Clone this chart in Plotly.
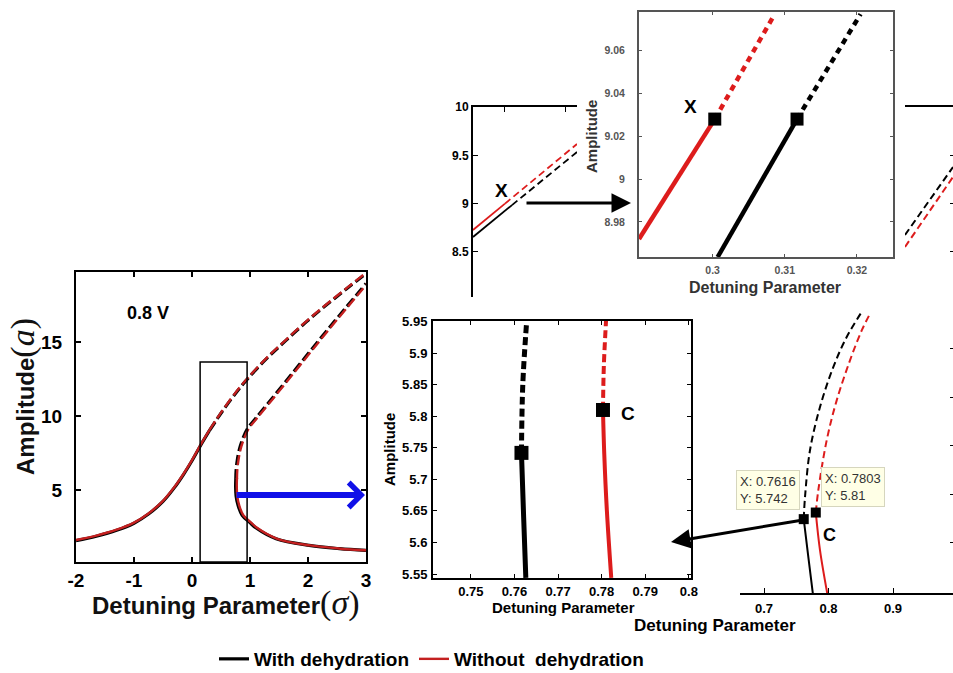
import plotly.graph_objects as go

W, H = 953, 673

# ---------------- data ----------------
# Main plot (0.8 V): upper branch (stable part, then unstable dashed part)
main_up_solid_sigma = [-2.0, -1.65, -1.3, -1.0, -0.75, -0.5, -0.3, -0.15, 0.0, 0.15, 0.30]
main_up_solid_black = [1.58, 1.88, 2.28, 2.76, 3.38, 4.23, 5.18, 6.03, 6.98, 8.03, 9.01]
main_up_solid_red = [1.62, 1.92, 2.32, 2.80, 3.42, 4.27, 5.22, 6.07, 7.02, 8.07, 9.05]
main_up_dash_sigma = [0.30, 0.53, 0.80, 0.95, 1.28, 1.62, 1.97, 2.31, 2.66, 3.0]
main_up_dash_black = [9.01, 10.36, 11.78, 12.48, 13.86, 15.11, 16.36, 17.48, 18.58, 19.63]
main_up_dash_red = [9.05, 10.40, 11.82, 12.52, 13.90, 15.15, 16.40, 17.52, 18.62, 19.67]
# middle (unstable) branch
main_mid_amp = [5.75, 6.3, 7.0, 7.8, 8.5, 9.1, 9.85, 10.95, 12.35, 14.05, 15.7, 17.35, 18.95]
main_mid_sigma_black = [0.755, 0.760, 0.780, 0.820, 0.880, 0.950, 1.100, 1.330, 1.620, 1.970, 2.310, 2.660, 3.0]
main_mid_sigma_red = [0.775, 0.780, 0.800, 0.840, 0.900, 0.970, 1.120, 1.350, 1.640, 1.990, 2.330, 2.680, 3.02]
# lower branch
main_low_sigma_black = [0.755, 0.752, 0.760, 0.795, 0.865, 1.0, 1.10, 1.45, 2.02, 2.54, 3.0]
main_low_amp_black = [5.75, 5.2, 4.6, 3.95, 3.3, 2.8, 2.45, 1.71, 1.26, 1.04, 0.92]
main_low_sigma_red = [0.775, 0.772, 0.780, 0.815, 0.885, 1.02, 1.12, 1.47, 2.04, 2.56, 3.0]
main_low_amp_red = [5.81, 5.2, 4.6, 3.95, 3.3, 2.8, 2.45, 1.71, 1.26, 1.04, 0.93]
box_sigma = [0.14, 0.95]
box_amp_top = 13.65

# Zoom around point C (middle inset)
c_black_solid_x = [0.7626, 0.7621, 0.7616]
c_black_solid_y = [5.544, 5.64, 5.742]
c_black_dash_x = [0.7616, 0.7619, 0.7628]
c_black_dash_y = [5.742, 5.85, 5.951]
c_red_solid_x = [0.7822, 0.7812, 0.7806, 0.7803]
c_red_solid_y = [5.544, 5.65, 5.74, 5.81]
c_red_dash_x = [0.7803, 0.7805, 0.7810]
c_red_dash_y = [5.81, 5.88, 5.951]
c_points_x = [0.7616, 0.7803]
c_points_y = [5.742, 5.81]

# Zoom around point X (top inset)
x_red_solid_x = [0.2898, 0.3003]
x_red_solid_y = [8.972, 9.028]
x_red_dash_x = [0.3003, 0.3086]
x_red_dash_y = [9.028, 9.077]
x_black_solid_x = [0.3007, 0.3117]
x_black_solid_y = [8.9636, 9.028]
x_black_dash_x = [0.3117, 0.3205]
x_black_dash_y = [9.028, 9.077]
x_points_x = [0.3003, 0.3117]
x_points_y = [9.028, 9.028]

# Small overview near X (top-left)
s_red_solid_x = [0.2474, 0.300]
s_red_solid_y = [8.728, 9.0]
s_red_dash_x = [0.300, 0.4184]
s_red_dash_y = [9.0, 9.617]
s_black_solid_x = [0.2474, 0.3115]
s_black_solid_y = [8.655, 8.985]
s_black_dash_x = [0.3115, 0.4184]
s_black_dash_y = [8.985, 9.534]

# Partial panel (top-right)
tr_x = [1.0, 1.08]
tr_black_y = [8.676, 9.379]
tr_red_y = [8.552, 9.276]

# Partial panel near C (bottom-right)
br_black_solid_x = [0.7762, 0.7687, 0.7616]
br_black_solid_y = [4.95, 5.354, 5.742]
br_black_dash_x = [0.7616, 0.7636, 0.7713, 0.7868, 0.8074, 0.8282, 0.853]
br_black_dash_y = [5.742, 5.971, 6.452, 6.897, 7.309, 7.618, 7.893]
br_red_solid_x = [0.7988, 0.7868, 0.7803]
br_red_solid_y = [4.95, 5.423, 5.81]
br_red_dash_x = [0.7803, 0.7842, 0.7972, 0.8127, 0.8333, 0.8515, 0.8643]
br_red_dash_y = [5.81, 6.04, 6.555, 6.966, 7.378, 7.686, 7.858]
br_points_x = [0.7616, 0.7803]
br_points_y = [5.742, 5.81]

main_xticks = [-2, -1, 0, 1, 2, 3]
main_xticklabels = ["-2", "-1", "0", "1", "2", "3"]
main_yticks = [5, 10, 15]
legend_names = ["With dehydration", "Without\u00a0 dehydration"]

BLACK = "#000000"
RED = "#dd1c1c"
MAINRED = "#c42020"


def PX(x):
    return x / W


def PY(y):
    return 1 - y / H


fig = go.Figure()


def line(x, y, axes, color, width, dash="solid", shape="linear", name=None, legend=False, group=None):
    fig.add_trace(go.Scatter(
        x=x, y=y, xaxis=axes[0], yaxis=axes[1], mode="lines",
        line=dict(color=color, width=width, dash=dash, shape=shape),
        name=name, showlegend=legend, legendgroup=group, hoverinfo="skip"))


def squares(x, y, axes, size):
    fig.add_trace(go.Scatter(
        x=x, y=y, xaxis=axes[0], yaxis=axes[1], mode="markers",
        marker=dict(symbol="square", color="black", size=size),
        showlegend=False, hoverinfo="skip"))


MD = "10px,4px"
# main plot: black under, red over
m = ("x", "y")
line(main_up_solid_sigma, main_up_solid_black, m, BLACK, 3.2, shape="spline", name=legend_names[0], legend=True, group="b")
line(main_up_dash_sigma, main_up_dash_black, m, BLACK, 3.2, MD, "spline", group="b")
line(main_mid_sigma_black, main_mid_amp, m, BLACK, 3.2, MD, "spline", group="b")
line(main_low_sigma_black, main_low_amp_black, m, BLACK, 3.2, shape="spline", group="b")
line(main_up_solid_sigma, main_up_solid_red, m, MAINRED, 2.4, shape="spline", name=legend_names[1], legend=True, group="r")
line(main_up_dash_sigma, main_up_dash_red, m, MAINRED, 2.4, MD, "spline", group="r")
line(main_mid_sigma_red, main_mid_amp, m, MAINRED, 2.4, MD, "spline", group="r")
line(main_low_sigma_red, main_low_amp_red, m, MAINRED, 2.4, shape="spline", group="r")

# middle inset (C)
c = ("x2", "y2")
line(c_black_solid_x, c_black_solid_y, c, BLACK, 5, shape="spline")
line(c_black_dash_x, c_black_dash_y, c, BLACK, 5, "8px,4px", "spline")
line(c_red_solid_x, c_red_solid_y, c, RED, 4, shape="spline")
line(c_red_dash_x, c_red_dash_y, c, RED, 4, "8px,4px", "spline")
squares(c_points_x, c_points_y, c, 14)

# top inset (X)
t = ("x3", "y3")
line(x_red_solid_x, x_red_solid_y, t, RED, 4.5)
line(x_red_dash_x, x_red_dash_y, t, RED, 4.5, "6px,5px")
line(x_black_solid_x, x_black_solid_y, t, BLACK, 4.5)
line(x_black_dash_x, x_black_dash_y, t, BLACK, 4.5, "6px,5px")
squares(x_points_x, x_points_y, t, 13)

# small overview
s = ("x4", "y4")
line(s_red_solid_x, s_red_solid_y, s, RED, 1.8)
line(s_red_dash_x, s_red_dash_y, s, RED, 1.8, "7px,4px")
line(s_black_solid_x, s_black_solid_y, s, BLACK, 1.8)
line(s_black_dash_x, s_black_dash_y, s, BLACK, 1.8, "7px,4px")

# top-right partial
r = ("x5", "y5")
line(tr_x, tr_black_y, r, BLACK, 2, "7px,4px")
line(tr_x, tr_red_y, r, RED, 2, "7px,4px")

# bottom-right partial
b = ("x6", "y6")
line(br_black_solid_x, br_black_solid_y, b, BLACK, 2, shape="spline")
line(br_black_dash_x, br_black_dash_y, b, BLACK, 2, "7px,4px", "spline")
line(br_red_solid_x, br_red_solid_y, b, RED, 2, shape="spline")
line(br_red_dash_x, br_red_dash_y, b, RED, 2, "7px,4px", "spline")
squares(br_points_x, br_points_y, b, 10)

AX = dict(showgrid=False, zeroline=False, showline=True, linecolor="black",
          linewidth=2, ticks="inside", tickcolor="black", automargin=False)


def bold(size, color="black"):
    return dict(family="Arial", size=size, color=color, weight="bold")


fig.update_layout(
    width=W, height=H, autosize=False,
    margin=dict(l=0, r=0, t=0, b=0, autoexpand=False),
    paper_bgcolor="white", plot_bgcolor="white",
    xaxis=dict(AX, domain=[PX(76), PX(366)], range=[-2, 3], anchor="y", mirror="ticks",
               tickvals=main_xticks, ticktext=main_xticklabels, ticklen=5, tickwidth=1.5,
               tickfont=bold(19), ticklabelstandoff=0),
    yaxis=dict(AX, domain=[PY(562), PY(272)], range=[0.14, 19.73], anchor="x", mirror="ticks",
               tickvals=main_yticks, ticklen=5, tickwidth=1.5, tickfont=bold(19), ticklabelstandoff=8),
    xaxis2=dict(AX, domain=[PX(433), PX(691)], range=[0.7413, 0.8005], anchor="y2", mirror="ticks",
                tick0=0.75, dtick=0.01, ticklen=4, tickfont=bold(13), ticklabelstandoff=0),
    yaxis2=dict(AX, domain=[PY(578), PY(321)], range=[5.5437, 5.951], anchor="x2", mirror="ticks",
                tick0=5.55, dtick=0.05, ticklen=4, tickfont=bold(13), ticklabelstandoff=1),
    xaxis3=dict(AX, domain=[PX(639), PX(893)], range=[0.2898, 0.325], anchor="y3", mirror="ticks",
                linecolor="#555", tickcolor="#555", tickvals=[0.3, 0.31, 0.32], ticklen=3,
                tickfont=bold(10.5, "#555"), ticklabelstandoff=2),
    yaxis3=dict(AX, domain=[PY(257), PY(12)], range=[8.9636, 9.078], anchor="x3", mirror="ticks",
                linecolor="#555", tickcolor="#555", tickvals=[8.98, 9, 9.02, 9.04, 9.06], ticklen=3,
                tickfont=bold(10.5, "#555"), ticklabelstandoff=10),
    xaxis4=dict(AX, domain=[PX(473), PX(577)], range=[0.2474, 0.4184], anchor="y4", side="top",
                tickvals=[0.3, 0.4], ticklen=5, showticklabels=False),
    yaxis4=dict(AX, domain=[PY(297), PY(107)], range=[8.034, 10], anchor="x4",
                tickvals=[8.5, 9, 9.5, 10], ticklen=5, tickfont=bold(12), ticklabelstandoff=0),
    xaxis5=dict(AX, domain=[PX(905), 1], range=tr_x, anchor="y5", side="top", ticks="", showticklabels=False),
    yaxis5=dict(AX, domain=[PY(297), PY(107)], range=[8.034, 10], anchor="x5", side="right",
                showline=False, tickvals=[8.5, 9, 9.5], ticklen=3, showticklabels=False),
    xaxis6=dict(AX, domain=[PX(740), 1], range=[0.6628, 0.993], anchor="y6",
                tickvals=[0.7, 0.8, 0.9], ticklen=5, tickfont=bold(13), ticklabelstandoff=2),
    yaxis6=dict(AX, domain=[PY(593), PY(300)], range=[4.981, 8.0], anchor="x6", side="right",
                showline=False, tickvals=[5.5, 6, 6.5, 7, 7.5, 8], ticklen=3, showticklabels=False),
    legend=dict(orientation="h", x=PX(214), y=PY(659), xanchor="left", yanchor="middle",
                font=bold(19), bgcolor="rgba(0,0,0,0)", itemwidth=30),
    shapes=[dict(type="rect", xref="x", yref="y", x0=box_sigma[0], x1=box_sigma[1],
                 y0=0.14, y1=box_amp_top, line=dict(color="black", width=1.5))],
)

ann = []


def text(x, y, s, font, angle=0, **kw):
    ann.append(dict(x=PX(x), y=PY(y), xref="paper", yref="paper", text=s, showarrow=False,
                    font=font, textangle=angle, xanchor="center", yanchor="middle", **kw))


serif = "font-family:'Times New Roman',serif;font-weight:normal;font-size:34px"
text(23, 397, "<b>Amplitude</b><span style=\"" + serif + "\">(<i>a</i>)</span>",
     dict(family="Arial", size=24, color="#111"), angle=-90)
text(226, 603, "<b>Detuning Parameter</b><span style=\"" + serif + "\">(<i>σ</i>)</span>",
     dict(family="Arial", size=24, color="#111"))
text(148, 313, "0.8 V", bold(18))
text(502, 190, "X", bold(19))
text(690, 106, "X", bold(19))
text(592, 137, "Amplitude", bold(15, "#333"), angle=-90)
text(765, 287, "Detuning Parameter", bold(16, "#333"))
text(390, 450, "Amplitude", bold(15), angle=-90)
text(563, 607, "Detuning Parameter", bold(15))
text(628, 413, "C", bold(19))
text(829, 535, "C", bold(18))
text(715, 625, "Detuning Parameter", bold(17))

tipfont = dict(family="Arial", size=13, color="#333")
text(768, 490, "X: 0.7616<br>Y: 5.742", tipfont, align="left", bgcolor="#ffffe6",
     bordercolor="#d6d6be", borderwidth=1, borderpad=3)
text(853, 487, "X: 0.7803<br>Y: 5.81", tipfont, align="left", bgcolor="#ffffe6",
     bordercolor="#d6d6be", borderwidth=1, borderpad=3)

# arrows
ann.append(dict(x=PX(365), y=PY(495), xref="paper", yref="paper", ax=-130, ay=0, text="",
                showarrow=True, arrowhead=4, arrowwidth=6, arrowsize=0.8, arrowcolor="#1010e8"))
ann.append(dict(x=PX(631), y=PY(203), xref="paper", yref="paper", ax=-106, ay=0, text="",
                showarrow=True, arrowhead=2, arrowwidth=3, arrowsize=1.3, arrowcolor="black"))
ann.append(dict(x=PX(671), y=PY(542), xref="paper", yref="paper", ax=132, ay=-22, text="",
                showarrow=True, arrowhead=2, arrowwidth=3, arrowsize=1.3, arrowcolor="black"))

fig.update_layout(annotations=ann)
fig.write_html("out.html", config={"displayModeBar": False},
               post_script="document.body.style.margin='0';document.body.style.overflow='hidden';")
